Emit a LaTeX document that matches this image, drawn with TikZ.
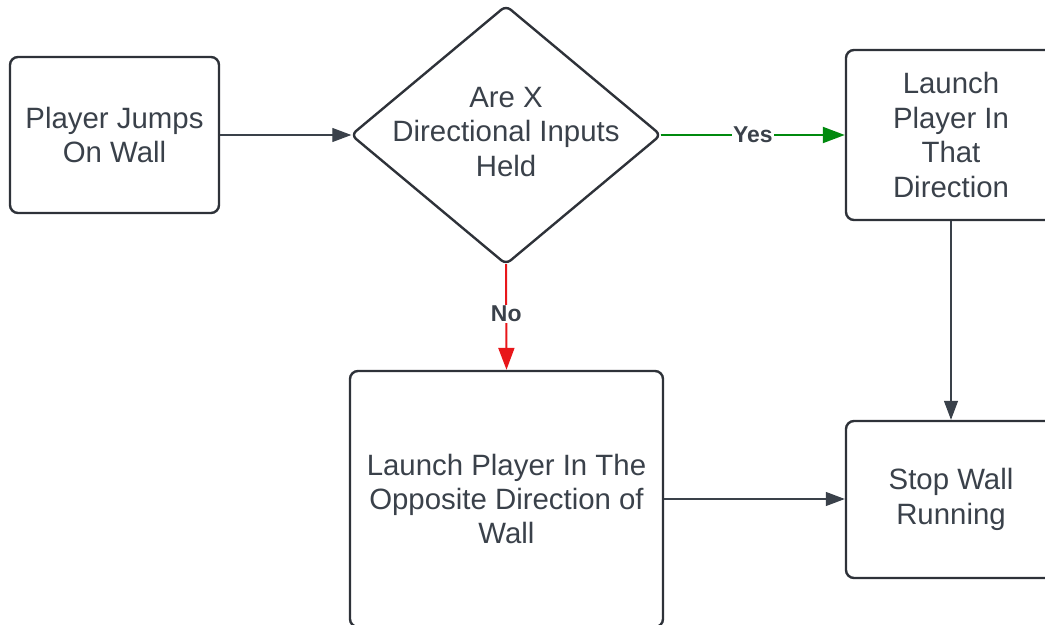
\documentclass[tikz,border=0pt]{standalone}
\usepackage{fontspec}
\setmainfont{Liberation Sans}
\usetikzlibrary{arrows.meta}
\definecolor{ink}{HTML}{3A414A}
\definecolor{edge}{HTML}{2E3239}
\definecolor{yesgreen}{HTML}{008A0E}
\definecolor{nored}{HTML}{E8161A}
\tikzset{
  stepbox/.style={draw=edge, line width=2.4bp, rounded corners=8bp, text=ink,
    align=center, inner sep=0pt, font=\fontsize{29.5}{34.5}\selectfont},
  flow/.style={draw=ink, line width=1.2bp, -{Triangle[length=19bp,width=14bp]}},
  branch/.style={line width=2bp, -{Triangle[length=22bp,width=16bp]}},
  answer/.style={fill=white, text=ink, inner sep=1bp, font=\fontsize{23}{26}\selectfont\bfseries}
}
\begin{document}
\begin{tikzpicture}[x=1bp,y=-1bp]
\useasboundingbox (0,0) rectangle (1045,625);
\clip (0,0) rectangle (1045,625);

% boxes
\node[stepbox, minimum width=209bp, minimum height=156bp] (jump) at (114.5,135) {Player Jumps\\On Wall};
\node[stepbox, minimum width=210bp, minimum height=170bp] (launch) at (951,135) {Launch\\Player In\\That\\Direction};
\node[stepbox, minimum width=210bp, minimum height=157bp] (stop) at (951,499.5) {Stop Wall\\Running};
\node[stepbox, minimum width=313bp, minimum height=256bp] (opposite) at (506.5,499) {Launch Player In The\\Opposite Direction of\\Wall};

% decision
\node[minimum width=309bp, minimum height=258bp, inner sep=0pt, text=ink, align=center,
  font=\fontsize{29.5}{34.5}\selectfont] (held) at (506,135) {\raisebox{4bp}{\begin{tabular}{@{}c@{}}Are X\\Directional Inputs\\Held\end{tabular}}};
\draw[draw=edge, line width=2.4bp, rounded corners=6bp]
  (held.north) -- (held.east) -- (held.south) -- (held.west) -- cycle;

% connectors
\draw[flow] (jump.east) -- (held.west);
\draw[branch, draw=yesgreen, fill=yesgreen] (held.east) -- (launch.west) node[answer, midway] {Yes};
\draw[branch, draw=nored, fill=nored] (held.south) -- (opposite.north) node[answer, midway, yshift=3bp] {No};
\draw[flow] (launch.south) -- (stop.north);
\draw[flow] (opposite.east) -- (opposite.east -| stop.west);
\end{tikzpicture}
\end{document}
